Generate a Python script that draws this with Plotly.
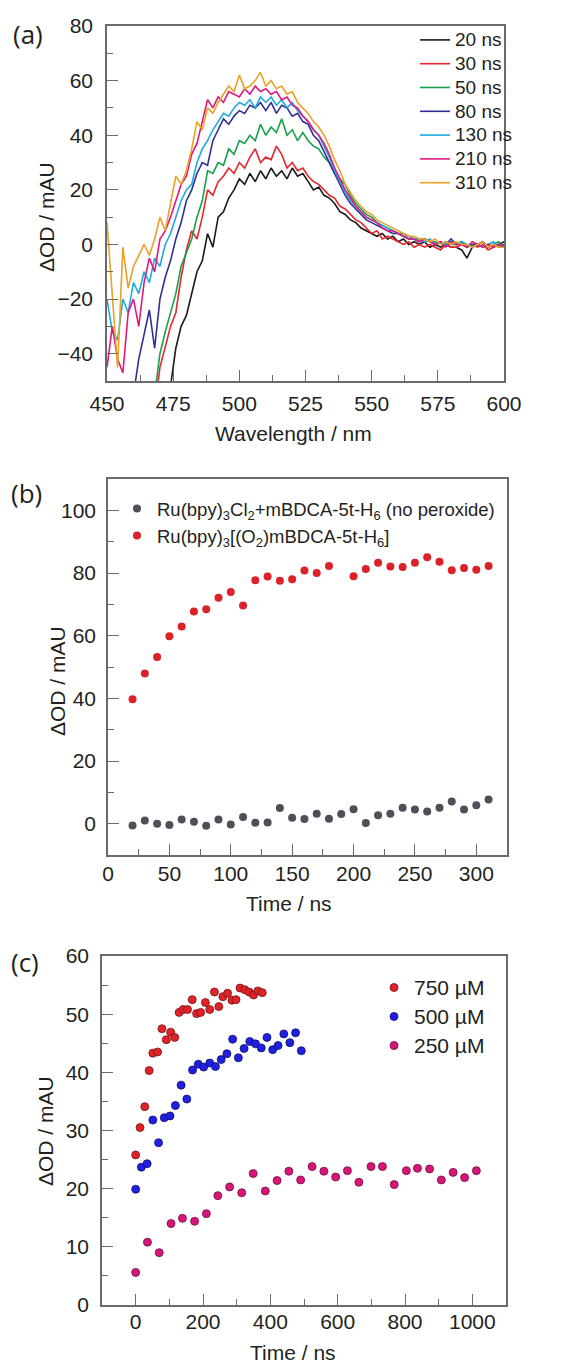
import numpy as np
import plotly.graph_objects as go

W, H = 561, 1363
OFF = 8  # page body margin of the html page

# ---------------- Panel (a): transient spectra ----------------
wavelength = np.arange(450, 601, 2)  # 76 points
spec_labels = ["20 ns", "30 ns", "50 ns", "80 ns", "130 ns", "210 ns", "310 ns"]
spec_colors = ["#1a1a1a", "#e8262d", "#17a14c", "#2e3192", "#1ea9e1", "#e0197f", "#e9a228"]

s20 = [-60, -60, -60, -60, -60, -60, -60, -60, -60, -60,
       -60, -58, -52, -38, -30, -26, -18, -10, -6, 4,
       -1, 10, 12, 17, 20, 24, 22, 26, 23, 27,
       24, 28, 25, 27, 24, 28, 25, 26, 23, 20,
       21, 18, 17, 15, 12, 11, 9, 8, 6, 5,
       4, 3, 4, 2, 3, 1, 2, 0, 1, 0,
       1, -1, 0, -1, 0, -1, -1, -2, -5, -1,
       0, -1, 0, -1, 0, 1]
s30 = [-60, -60, -60, -60, -60, -60, -60, -60, -60, -60,
       -45, -38, -30, -25, -12, -2, 5, 2, 10, 20,
       18, 23, 25, 28, 26, 30, 28, 32, 35, 30,
       32, 31, 36, 33, 28, 30, 27, 28, 25, 23,
       22, 20, 18, 17, 14, 13, 11, 9, 8, 6,
       4, 5, 2, 3, 2, 1, 0, 1, -1, 0,
       -1, 0, -1, -2, 0, -1, -1, 0, -1, 0,
       -1, 0, -2, -1, 0, -1]
s50 = [-60, -60, -60, -60, -60, -60, -60, -60, -60, -55,
       -40, -32, -25, -18, -8, -3, 2, 10, 16, 27,
       26, 30, 29, 35, 33, 38, 37, 40, 38, 44,
       40, 43, 41, 46, 40, 42, 38, 41, 38, 36,
       35, 32, 30, 26, 24, 22, 18, 15, 13, 11,
       10, 8, 7, 6, 5, 4, 4, 3, 2, 2,
       2, 1, 1, 0, 1, 0, 0, 1, -1, 0,
       0, 1, -1, 0, 1, -1]
s80 = [-60, -60, -60, -60, -60, -55, -42, -33, -24, -38,
       -20, -12, -6, 2, 8, 16, 20, 26, 30, 29,
       38, 42, 46, 44, 47, 49, 48, 51, 50, 52,
       49, 52, 48, 51, 50, 47, 48, 45, 44, 40,
       38, 34, 30, 26, 22, 18, 15, 13, 11, 9,
       8, 7, 6, 5, 4, 4, 3, 2, 2, 1,
       2, 1, 0, 1, 0, 2, 0, 1, -1, 0,
       0, 1, -1, 0, -1, 0]
s130 = [-20, -32, -35, -20, -25, -14, -18, -10, -14, -5,
        -8, 0, 4, 10, 16, 20, 22, 30, 35, 38,
        42, 45, 48, 47, 50, 52, 51, 53, 50, 54,
        52, 54, 51, 53, 50, 52, 49, 47, 45, 42,
        40, 36, 32, 27, 23, 19, 16, 14, 12, 10,
        9, 8, 7, 6, 5, 4, 3, 3, 2, 2,
        1, 2, 0, 1, 0, 1, 0, 1, 0, -1,
        0, -1, 0, 1, -1, -1]
s210 = [-45, -30, -42, -47, -25, -20, -30, -14, -5, -10,
        2, 5, 10, 16, 22, 25, 33, 37, 45, 53,
        50, 54, 52, 56, 55, 54, 57, 55, 58, 56,
        57, 55, 56, 53, 54, 51, 50, 47, 45, 42,
        40, 37, 33, 28, 24, 20, 17, 14, 12, 10,
        9, 8, 6, 5, 5, 4, 3, 2, 2, 1,
        2, 1, 0, 1, -1, 1, 0, 0, -1, 1,
        0, -1, 0, -1, 0, -1]
s310 = [8, -20, -45, -1, -16, -8, -4, 0, -4, 2,
        10, 5, 15, 25, 22, 27, 35, 45, 42, 50,
        48, 52, 55, 58, 56, 62, 57, 58, 60, 63,
        58, 60, 57, 58, 55, 56, 52, 50, 48, 45,
        43, 40, 36, 31, 27, 22, 19, 16, 14, 12,
        11, 9, 8, 7, 6, 5, 4, 3, 3, 2,
        2, 1, 2, 0, 1, 0, 1, 0, 0, -1,
        0, 1, -1, 0, -1, -1]
spectra = [s20, s30, s50, s80, s130, s210, s310]

# ---------------- Panel (b): kinetics ----------------
time_b = [20, 30, 40, 50, 60, 70, 80, 90, 100, 110, 120, 130, 140, 150, 160,
          170, 180, 190, 200, 210, 220, 230, 240, 250, 260, 270, 280, 290, 300, 310]
gray_b = [-0.6, 1.0, 0.0, -0.4, 1.3, 0.6, -0.7, 1.3, -0.3, 2.1, 0.3, 0.4, 5.0, 1.9, 1.5,
          3.2, 1.6, 3.1, 4.6, 0.2, 2.7, 3.2, 5.1, 4.5, 3.9, 5.1, 7.1, 4.5, 5.9, 7.7]
time_b_red = [20, 30, 40, 50, 60, 70, 80, 90, 100, 110, 120, 130, 140, 150, 160,
              170, 180, 200, 210, 220, 230, 240, 250, 260, 270, 280, 290, 300, 310]
red_b = [39.7, 47.9, 53.2, 59.8, 62.9, 67.7, 68.4, 72.1, 73.9, 69.6, 77.7, 78.9, 77.5, 78.0, 80.8,
         80.0, 82.2, 79.0, 81.3, 83.3, 82.1, 81.9, 83.3, 85.0, 83.6, 80.9, 81.6, 81.0, 82.2]
label_gray = "Ru(bpy)<sub>3</sub>Cl<sub>2</sub>+mBDCA-5t-H<sub>6</sub> (no peroxide)"
label_red = "Ru(bpy)<sub>3</sub>[(O<sub>2</sub>)mBDCA-5t-H<sub>6</sub>]"

# ---------------- Panel (c): concentration dependence ----------------
t750 = [0, 13, 27, 40, 51, 65, 78, 91, 104, 116, 129, 141, 154, 168, 181,
        193, 207, 220, 234, 247, 259, 273, 286, 298, 310, 324, 337, 350, 363, 376]
y750 = [25.8, 30.5, 34.1, 40.3, 43.3, 43.5, 47.5, 45.6, 46.9, 46.0, 50.3, 50.8, 50.8, 52.5, 50.1,
        50.3, 52.0, 50.8, 53.8, 51.3, 53.0, 53.6, 52.4, 52.5, 54.5, 54.2, 53.8, 53.3, 54.0, 53.7]
t500 = [0, 17, 34, 51, 68, 85, 102, 118, 135, 152, 169, 186, 202, 220, 237,
        254, 271, 288, 305, 322, 339, 356, 373, 390, 407, 423, 440, 458, 475, 492]
y500 = [19.9, 23.7, 24.3, 31.8, 27.9, 32.2, 32.5, 34.3, 37.8, 35.4, 40.4, 41.4, 40.9, 41.6, 41.0,
        42.2, 43.2, 45.7, 42.5, 44.1, 45.3, 44.9, 44.2, 46.0, 43.9, 44.6, 46.6, 45.1, 46.8, 43.7]
t250 = [0, 35, 70, 105, 139, 175, 210, 244, 279, 315, 349, 385, 420, 455, 490,
        524, 559, 594, 629, 663, 699, 733, 768, 804, 837, 873, 908, 943, 977, 1012]
y250 = [5.6, 10.8, 9.0, 14.0, 14.9, 14.4, 15.7, 18.8, 20.3, 19.3, 22.6, 19.6, 21.4, 23.0, 21.5,
        23.8, 23.0, 22.0, 23.1, 21.1, 23.8, 23.8, 20.7, 23.1, 23.5, 23.4, 21.5, 22.8, 21.9, 23.1]
conc_labels = ["750 µM", "500 µM", "250 µM"]

FONT = "Liberation Sans, Arial, sans-serif"
TXT = "#231f20"
FRAME = "#6b6b6b"


def big(t, s):
    return f'<span style="font-size:{s}px">{t}</span>'


fig = go.Figure()

for lab, col, ys in zip(spec_labels, spec_colors, spectra):
    fig.add_trace(go.Scatter(x=wavelength, y=ys, mode="lines", name=big(lab, 19),
                             line=dict(color=col, width=1.6),
                             xaxis="x", yaxis="y", legend="legend"))

fig.add_trace(go.Scatter(x=time_b, y=gray_b, mode="markers", name=label_gray,
                         marker=dict(color="#4f4f5a", size=8),
                         xaxis="x2", yaxis="y2", legend="legend2"))
fig.add_trace(go.Scatter(x=time_b_red, y=red_b, mode="markers", name=label_red,
                         marker=dict(color="#dc2229", size=8),
                         xaxis="x2", yaxis="y2", legend="legend2"))

for lab, tx, ty, col, edge in [(conc_labels[0], t750, y750, "#e02328", "#7a1515"),
                                (conc_labels[1], t500, y500, "#2020e0", "#101070"),
                                (conc_labels[2], t250, y250, "#d8167a", "#6e0c3e")]:
    fig.add_trace(go.Scatter(x=tx, y=ty, mode="markers", name=big(lab, 21),
                             marker=dict(color=col, size=8, line=dict(color=edge, width=0.8)),
                             xaxis="x3", yaxis="y3", legend="legend3"))


def px_x(p):
    return (p - OFF) / W


def px_y(p):
    return 1 - (p - OFF) / H


def axis(dom, rng, dtick, mdtick, standoff):
    return dict(domain=dom, range=rng, dtick=dtick, tick0=0, automargin=False,
                showline=True, mirror=True, linecolor=FRAME, linewidth=1.5,
                ticks="inside", ticklen=11, tickwidth=1.3, tickcolor=FRAME,
                minor=dict(dtick=mdtick, ticks="inside", ticklen=6, tickwidth=1.2, tickcolor=FRAME),
                showgrid=False, zeroline=False,
                tickfont=dict(family=FONT, size=21, color=TXT),
                ticklabelstandoff=standoff)


xa = axis([px_x(107), px_x(504)], [450, 600], 25, 12.5, 3)
ya = axis([px_y(381), px_y(26)], [-50, 80], 20, 10, 8)
xb = axis([px_x(108), px_x(507)], [0, 325], 50, 25, -1)
yb = axis([px_y(855), px_y(479)], [-10, 110], 20, 10, 6)
xc = axis([px_x(102), px_x(506)], [-100, 1100], 200, 100, -3)
yc = axis([px_y(1305), px_y(956)], [0, 60], 10, 5, 7)
xa["anchor"] = "y"; ya["anchor"] = "x"
xb["anchor"] = "y2"; yb["anchor"] = "x2"
xc["anchor"] = "y3"; yc["anchor"] = "x3"

leg_common = dict(bgcolor="rgba(0,0,0,0)", borderwidth=0, itemwidth=30,
                  xanchor="left", yanchor="top", tracegroupgap=0)

tfont = dict(family=FONT, size=21, color=TXT)
pfont = dict(family="Open Sans", size=26, color=TXT)


def ann(text, x, y, font, angle=0):
    return dict(text=text, x=px_x(x), y=px_y(y), xref="paper", yref="paper", showarrow=False,
                xanchor="center", yanchor="middle", textangle=angle, font=font)


fig.update_layout(
    width=W, height=H,
    margin=dict(l=0, r=0, t=0, b=0, autoexpand=False),
    paper_bgcolor="white", plot_bgcolor="white",
    font=dict(family=FONT, color=TXT),
    xaxis=xa, yaxis=ya, xaxis2=xb, yaxis2=yb, xaxis3=xc, yaxis3=yc,
    legend=dict(x=px_x(415), y=px_y(23), font=dict(family=FONT, size=16, color=TXT), **leg_common),
    legend2=dict(x=px_x(117), y=px_y(490), font=dict(family=FONT, size=18.5, color=TXT), **leg_common),
    legend3=dict(x=px_x(374), y=px_y(968), font=dict(family=FONT, size=20, color=TXT), **leg_common),
    showlegend=True,
    annotations=[
        ann("(a)", 28, 34, pfont), ann("(b)", 26, 493, pfont), ann("(c)", 25, 962, pfont),
        ann("Wavelength / nm", 293, 433, tfont),
        ann("ΔOD / mAU", 47, 217, tfont, -90),
        ann("Time / ns", 289, 903, tfont),
        ann("ΔOD / mAU", 57, 681, tfont, -90),
        ann("Time / ns", 293, 1352, tfont),
        ann("ΔOD / mAU", 45, 1131, tfont, -90),
    ],
)

fig.write_html("out.html")
